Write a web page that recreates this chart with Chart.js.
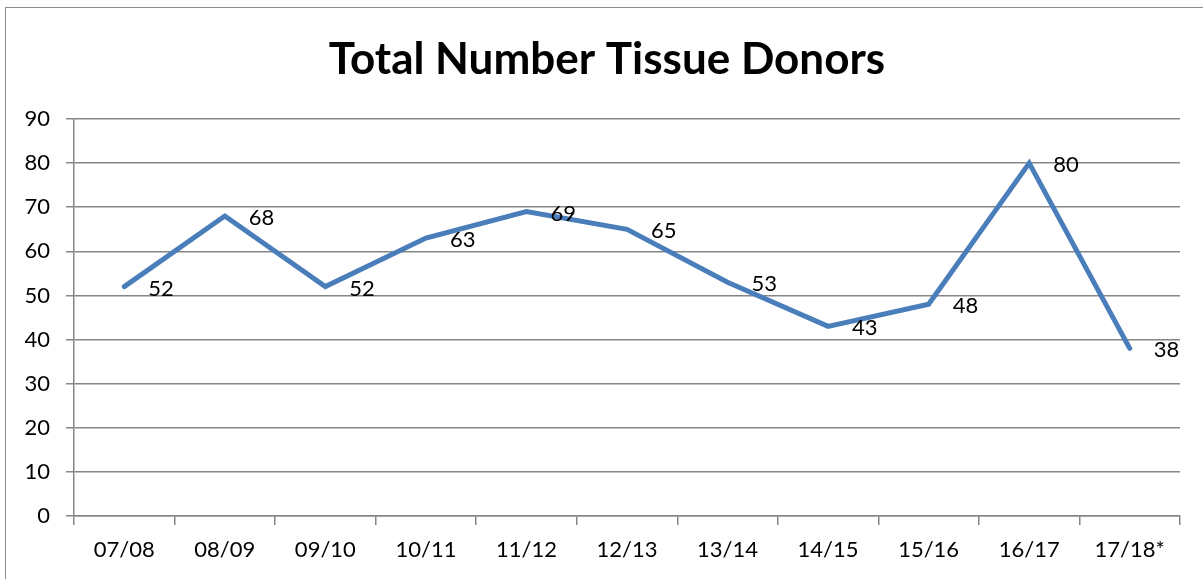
<!DOCTYPE html>
<html>
<head>
<meta charset="utf-8">
<script src="https://cdn.jsdelivr.net/npm/chart.js@4"></script>
<style>
  html, body { margin: 0; padding: 0; background: #fff; }
  #frame {
    position: absolute; left: 5px; top: 7px; width: 1210px; height: 600px;
    border-left: 1.5px solid #8c8c8c; border-top: 1.5px solid #8c8c8c;
  }
  #wrap { position: absolute; left: 0; top: 0; width: 1203px; height: 579px; }
</style>
</head>
<body>
<div id="frame"></div>
<div id="wrap"><canvas id="c" width="1203" height="579"></canvas></div>
<script>
const chartTitle = "Total Number Tissue Donors";
const seasons = ["07/08", "08/09", "09/10", "10/11", "11/12", "12/13", "13/14", "14/15", "15/16", "16/17", "17/18*"];
const donors = [52, 68, 52, 63, 69, 65, 53, 43, 48, 80, 38];
const yTicks = [0, 10, 20, 30, 40, 50, 60, 70, 80, 90];

const FONT = "Lato, 'Open Sans', sans-serif";
const gridGrey = "#868686";

// title is centred on the whole frame, not the plot, so draw it ourselves
const titlePlugin = {
  id: "titlePlugin",
  afterDraw(chart) {
    const { ctx } = chart;
    ctx.save();
    ctx.font = "bold 44px " + FONT;
    ctx.fillStyle = "#000";
    ctx.textAlign = "center";
    ctx.textBaseline = "alphabetic";
    ctx.fillText(chartTitle, 607, 74);
    ctx.restore();
  },
};

// labels to the right of each point, like Excel's "Right" position
const pointLabels = {
  id: "pointLabels",
  afterDatasetsDraw(chart) {
    const { ctx } = chart;
    const meta = chart.getDatasetMeta(0);
    ctx.save();
    ctx.font = "22px " + FONT;
    ctx.fillStyle = "#000";
    ctx.textAlign = "left";
    ctx.textBaseline = "middle";
    meta.data.forEach((pt, i) => {
      ctx.fillText(String(donors[i]), pt.x + 24, pt.y + 2);
    });
    ctx.restore();
  },
};

new Chart(document.getElementById("c"), {
  type: "line",
  data: {
    labels: seasons,
    datasets: [
      {
        data: donors,
        borderColor: "#4a7ebb",
        borderWidth: 5,
        pointRadius: 0,
        tension: 0,
        fill: false,
        borderCapStyle: "round",
        borderJoinStyle: "miter",
      },
    ],
  },
  options: {
    animation: false,
    responsive: false,
    layout: { padding: { left: 0, right: 23, top: 119, bottom: 0 } },
    plugins: {
      legend: { display: false },
      tooltip: { enabled: false },
      title: { display: false },
    },
    scales: {
      x: {
        offset: true,
        grid: {
          offset: true,
          drawOnChartArea: false,
          drawTicks: true,
          tickLength: 9,
          color: gridGrey,
          lineWidth: 1.5,
        },
        border: { color: gridGrey, width: 1.5 },
        ticks: {
          color: "#000",
          font: { family: FONT, size: 22 },
          padding: 12,
          maxRotation: 0,
          autoSkip: false,
        },
        afterFit(scale) { scale.height = 63; },
      },
      y: {
        min: 0,
        max: 90,
        afterBuildTicks(scale) { scale.ticks = yTicks.map((v) => ({ value: v })); },
        grid: {
          color: gridGrey,
          lineWidth: 1.5,
          tickLength: 8,
        },
        border: { color: gridGrey, width: 1.5 },
        ticks: {
          color: "#000",
          font: { family: FONT, size: 22 },
          padding: 16,
        },
        afterFit(scale) { scale.width = 74; },
      },
    },
  },
  plugins: [pointLabels, titlePlugin],
});
</script>
</body>
</html>
